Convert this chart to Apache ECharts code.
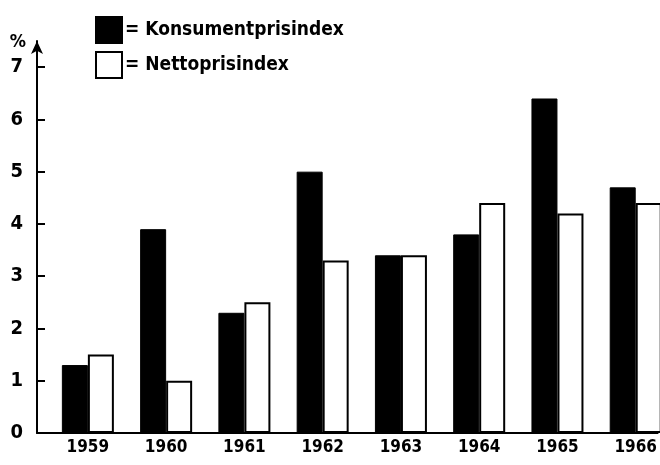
<!DOCTYPE html>
<html><head><meta charset="utf-8">
<script src="https://cdn.jsdelivr.net/npm/echarts@6/dist/echarts.min.js"></script>
<style>html,body{margin:0;padding:0;background:#fff}#c{width:660px;height:465px}</style>
</head><body><div id="c"></div>
<script>
var years = [1959, 1960, 1961, 1962, 1963, 1964, 1965, 1966];
var konsument = [1.3, 3.9, 2.3, 5.0, 3.4, 3.8, 6.4, 4.7];
var netto = [1.5, 1.0, 2.5, 3.3, 3.4, 4.4, 4.2, 4.4];
var yTicks = [0, 1, 2, 3, 4, 5, 6, 7];
var seriesNames = ['Konsumentprisindex', 'Nettoprisindex'];

var font = 'DejaVu Sans Condensed';
var chart = echarts.init(document.getElementById('c'), null, {renderer: 'canvas'});
chart.setOption({
  animation: false,
  backgroundColor: '#fff',
  grid: {left: 37, right: 0, top: 41, bottom: 32},
  legend: {
    orient: 'vertical', left: 90, top: 11, itemWidth: 26, itemHeight: 26, itemGap: 7,
    icon: 'rect',
    formatter: function (n) { return '= ' + n; },
    textStyle: {fontFamily: font, fontWeight: 'bold', fontSize: 19, color: '#000', padding: [0,0,0,-2]},
    data: seriesNames
  },
  xAxis: {
    type: 'value', min: 1958.35, max: 1966.28,
    splitLine: {show: false},
    axisLine: {show: true, lineStyle: {color: '#000', width: 2}},
    axisTick: {show: false},
    axisLabel: {customValues: years, color: '#000', fontFamily: font, fontWeight: 'bold', fontSize: 17, margin: 6,
      formatter: function (v) { return String(Math.round(v)); }}
  },
  yAxis: {
    type: 'value', min: 0, max: 7.5, interval: 1,
    name: '%', nameLocation: 'end', nameGap: -1,
    nameTextStyle: {color: '#000', fontFamily: font, fontWeight: 'bold', fontSize: 18, align: 'right', verticalAlign: 'middle', padding: [0, 11, 0, 0]},
    splitLine: {show: false},
    axisLine: {show: true, symbol: ['none', 'arrow'], symbolSize: [9, 13], lineStyle: {color: '#000', width: 2}},
    axisTick: {show: true, inside: true, length: 8, customValues: yTicks, lineStyle: {color: '#000', width: 2}},
    axisLabel: {customValues: yTicks, color: '#000', fontFamily: font, fontWeight: 'bold', fontSize: 20, margin: 14}
  },
  series: [
    {name: seriesNames[0], type: 'bar', barWidth: 26, barGap: '0%',
     itemStyle: {color: '#000', borderColor: '#000', borderWidth: 1},
     data: years.map(function (y, i) { return [y, konsument[i]]; })},
    {name: seriesNames[1], type: 'bar', barWidth: 26, barGap: '0%',
     itemStyle: {color: '#fff', borderColor: '#000', borderWidth: 2},
     data: years.map(function (y, i) { return [y, netto[i]]; })}
  ]
});
</script></body></html>
